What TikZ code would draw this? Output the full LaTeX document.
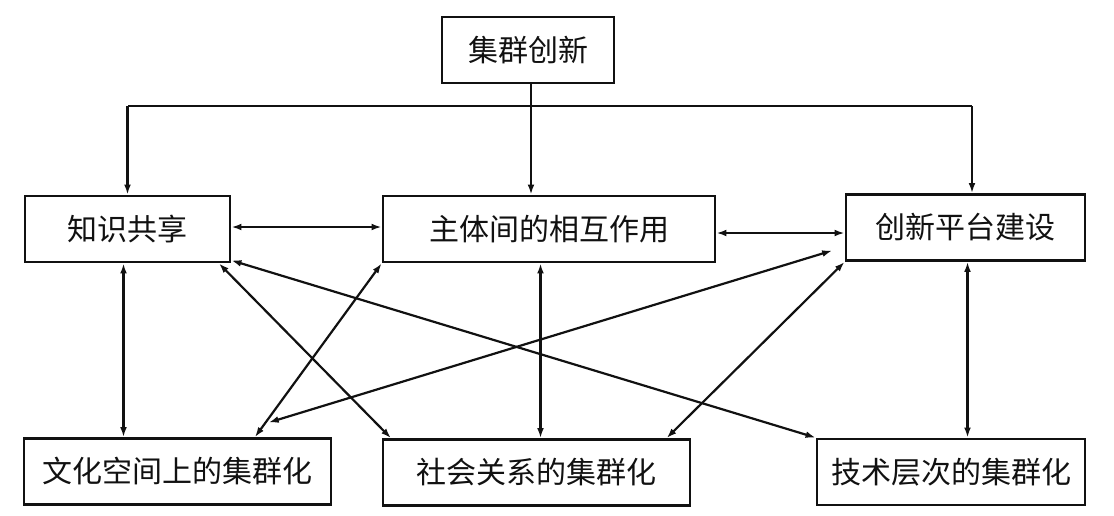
\documentclass[tikz,border=0pt]{standalone}
\usepackage{fontspec}
\usepackage{xcolor}
\usepackage{tikz}
\usetikzlibrary{arrows.meta,positioning,calc}
\newfontfamily\cjk{Noto Sans CJK SC}
\definecolor{clInk}{HTML}{111111}
\tikzset{
  cluster box/.style={draw=clInk,line width=1.4pt,fill=white,inner sep=0pt,
    minimum height=33pt,font=\cjk\fontsize{15}{18}\selectfont,text=clInk},
  cluster line/.style={line width=1.1pt,draw=clInk},
  cluster arrow/.style={cluster line,-{Latex[length=5pt,width=3.4pt]}},
  cluster link/.style={cluster line,{Latex[length=5pt,width=3.4pt]}-{Latex[length=5pt,width=3.4pt]}}
}
\begin{document}
\begin{tikzpicture}[x=0.5pt,y=-0.5pt]
\useasboundingbox (0,0) rectangle (1114,515);
% boxes
\node[cluster box,minimum width=86pt] (top) at (528,50) {集群创新};
\node[cluster box,minimum width=102.5pt] (know) at (127.5,229) {知识共享};
\node[cluster box,minimum width=166pt] (inter) at (549,229) {主体间的相互作用};
\node[cluster box,minimum width=119.5pt] (plat) at (965.5,227.5) {创新平台建设};
\node[cluster box,minimum width=153.5pt] (cult) at (177.5,471.5) {文化空间上的集群化};
\node[cluster box,minimum width=153.5pt] (soc) at (536.5,472.5) {社会关系的集群化};
\node[cluster box,minimum width=134pt] (tech) at (951,472) {技术层次的集群化};
% from the top
\coordinate (bus) at (531,106);
\draw[cluster line] (top.south -| bus) -- (bus);
\draw[cluster line] (bus) -- (bus -| know.north) (bus) -- ([xshift=3.25pt]bus -| plat.north);
\draw[cluster arrow] (bus) -- (bus |- inter.north);
\draw[cluster arrow] (bus -| know.north) -- (know.north);
\draw[cluster arrow] ([xshift=3.25pt]bus -| plat.north) -- ([xshift=3.25pt]plat.north);
% middle row
\draw[cluster link] ([yshift=1pt]know.east) -- ([yshift=1pt]know.east -| inter.west);
\draw[cluster link] ([yshift=-2pt]inter.east) -- ([yshift=-2pt]inter.east -| plat.west);
% straight down
\draw[cluster link] ([xshift=-2pt]know.south) -- ([xshift=-2pt]know.south |- cult.north);
\draw[cluster link] ([xshift=2pt]soc.north) -- ([xshift=2pt]soc.north |- inter.south);
\draw[cluster link] ([xshift=1pt]plat.south) -- ([xshift=1pt]plat.south |- tech.north);
% crossing links
\draw[cluster link] ($(cult.north west)!0.75!(cult.north east)$) -- (inter.south west);
\draw[cluster link,shorten <=25pt,shorten >=6.5pt] ($(cult.north west)!0.64!(cult.north east)$) -- ($(plat.north west)!0.78!(plat.south west)$);
\draw[cluster link] ($(know.south west)!0.94!(know.south east)$) -- ($(soc.north west)!0.03!(soc.north east)$);
\draw[cluster link] ([yshift=1.5pt]know.south east) -- (tech.north west);
\draw[cluster link] ($(soc.north west)!0.92!(soc.north east)$) -- (plat.south west);
\end{tikzpicture}
\end{document}
